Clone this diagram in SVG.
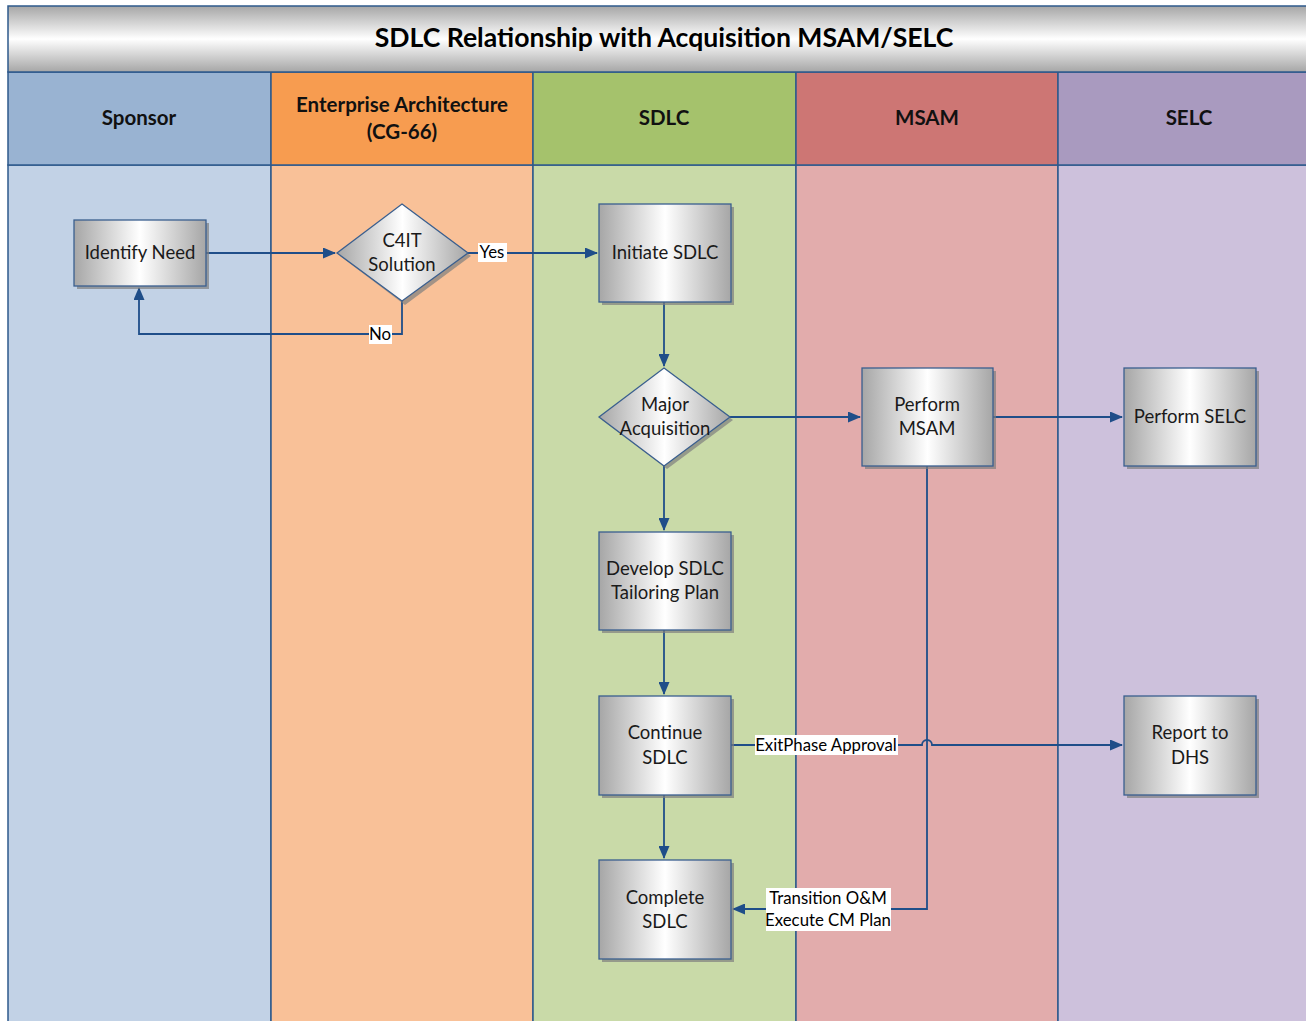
<svg xmlns="http://www.w3.org/2000/svg" width="1306" height="1021" viewBox="0 0 1306 1021">
<defs>
<linearGradient id="hg" x1="0" y1="0" x2="1" y2="0">
<stop offset="0" stop-color="#a6a6a6"/><stop offset="0.5" stop-color="#ffffff"/><stop offset="1" stop-color="#a6a6a6"/>
</linearGradient>
<linearGradient id="vg" x1="0" y1="0" x2="0" y2="1">
<stop offset="0" stop-color="#a6a6a6"/><stop offset="0.5" stop-color="#ffffff"/><stop offset="1" stop-color="#a6a6a6"/>
</linearGradient>
<marker id="ar" markerWidth="13" markerHeight="11" refX="12" refY="5.5" orient="auto" markerUnits="userSpaceOnUse">
<path d="M0,0 L13,5.5 L0,11 Z" fill="#1f4e89"/>
</marker>
<style>
.lane{stroke:#2e5a8c;stroke-width:1.5}
.hd{font-family:Lato,"Open Sans",sans-serif;font-weight:bold;font-size:20.5px;fill:#111;text-anchor:middle}
.tx{font-family:Lato,"Open Sans",sans-serif;font-size:18.5px;fill:#1a1a1a;text-anchor:middle}
.lb{font-family:Lato,"Open Sans",sans-serif;font-size:16.8px;fill:#000;text-anchor:middle}
.box{fill:url(#hg);stroke:#3a5f8f;stroke-width:1.3}
.sh{fill:#7f7f7f;opacity:0.7}
.cn{fill:none;stroke:#1f4e89;stroke-width:1.8}
</style>
</defs>
<rect width="1306" height="1021" fill="#ffffff"/>
<g id="lanes">
<rect x="8" y="165" width="263" height="860" fill="#c2d2e6" class="lane"/>
<rect x="271" y="165" width="262" height="860" fill="#f9c198" class="lane"/>
<rect x="533" y="165" width="263" height="860" fill="#c9daa8" class="lane"/>
<rect x="796" y="165" width="262" height="860" fill="#e2acac" class="lane"/>
<rect x="1058" y="165" width="260" height="860" fill="#cdc1dc" class="lane"/>
<rect x="8" y="72" width="263" height="93" fill="#99b3d2" class="lane"/>
<rect x="271" y="72" width="262" height="93" fill="#f79c50" class="lane"/>
<rect x="533" y="72" width="263" height="93" fill="#a5c26c" class="lane"/>
<rect x="796" y="72" width="262" height="93" fill="#cd7674" class="lane"/>
<rect x="1058" y="72" width="260" height="93" fill="#a99abf" class="lane"/>
<text class="hd" x="139" y="125">Sponsor</text>
<text class="hd" x="402" y="112">Enterprise Architecture</text>
<text class="hd" x="402" y="139">(CG-66)</text>
<text class="hd" x="664" y="125">SDLC</text>
<text class="hd" x="927" y="125">MSAM</text>
<text class="hd" x="1189" y="125">SELC</text>
</g>
<g id="title">
<rect x="8" y="6" width="1310" height="66" fill="url(#vg)" stroke="#2e5a8c" stroke-width="1.5"/>
<text x="664" y="47" font-family="Lato,'Open Sans',sans-serif" font-weight="bold" font-size="26.6" text-anchor="middle" fill="#000">SDLC Relationship with Acquisition MSAM/SELC</text>
</g>
<g id="connectors">
<path class="cn" d="M206,253 L335,253" marker-end="url(#ar)"/>
<path class="cn" d="M468,253 L597,253" marker-end="url(#ar)"/>
<path class="cn" d="M402,301 L402,334 L139,334 L139,288" marker-end="url(#ar)"/>
<path class="cn" d="M664,302 L664,366" marker-end="url(#ar)"/>
<path class="cn" d="M730,417 L860,417" marker-end="url(#ar)"/>
<path class="cn" d="M993,417 L1122,417" marker-end="url(#ar)"/>
<path class="cn" d="M664,466 L664,530" marker-end="url(#ar)"/>
<path class="cn" d="M664,630 L664,694" marker-end="url(#ar)"/>
<path class="cn" d="M664,795 L664,858" marker-end="url(#ar)"/>
<path class="cn" d="M731,745 L922,745 A5,5 0 0 1 932,745 L1122,745" marker-end="url(#ar)"/>
<path class="cn" d="M927,466 L927,909 L733,909" marker-end="url(#ar)"/>
<rect x="478" y="243" width="29" height="19" fill="#fff"/>
<text class="lb" x="492" y="258">Yes</text>
<rect x="369" y="325" width="23" height="19" fill="#fff"/>
<text class="lb" x="380" y="340">No</text>
<rect x="755" y="735" width="143" height="20" fill="#fff"/>
<text class="lb" x="826" y="751">ExitPhase Approval</text>
<rect x="766" y="888" width="125" height="43" fill="#fff"/>
<text class="lb" x="828" y="904">Transition O&amp;M</text>
<text class="lb" x="828" y="926">Execute CM Plan</text>
</g>
<g id="identify-need">
<rect class="sh" x="77" y="223" width="132" height="66"/>
<rect class="box" x="74" y="220" width="132" height="66"/>
<text class="tx" x="140" y="259">Identify Need</text>
</g>
<g id="c4it">
<polygon class="sh" points="405,207 471,256 405,305 340,256"/>
<polygon class="box" points="402,204 468,253 402,301 337,253"/>
<text class="tx" x="402" y="247">C4IT</text>
<text class="tx" x="402" y="271">Solution</text>
</g>
<g id="initiate-sdlc">
<rect class="sh" x="602" y="207" width="132" height="98"/>
<rect class="box" x="599" y="204" width="132" height="98"/>
<text class="tx" x="665" y="259">Initiate SDLC</text>
</g>
<g id="major-acq">
<polygon class="sh" points="667,371 733,420 667,469 602,420"/>
<polygon class="box" points="664,368 730,417 664,466 599,417"/>
<text class="tx" x="665" y="411">Major</text>
<text class="tx" x="665" y="435">Acquisition</text>
</g>
<g id="perform-msam">
<rect class="sh" x="865" y="371" width="131" height="98"/>
<rect class="box" x="862" y="368" width="131" height="98"/>
<text class="tx" x="927" y="411">Perform</text>
<text class="tx" x="927" y="435">MSAM</text>
</g>
<g id="perform-selc">
<rect class="sh" x="1127" y="371" width="132" height="98"/>
<rect class="box" x="1124" y="368" width="132" height="98"/>
<text class="tx" x="1190" y="423">Perform SELC</text>
</g>
<g id="develop-plan">
<rect class="sh" x="602" y="535" width="132" height="98"/>
<rect class="box" x="599" y="532" width="132" height="98"/>
<text class="tx" x="665" y="575">Develop SDLC</text>
<text class="tx" x="665" y="599">Tailoring Plan</text>
</g>
<g id="continue-sdlc">
<rect class="sh" x="602" y="699" width="132" height="99"/>
<rect class="box" x="599" y="696" width="132" height="99"/>
<text class="tx" x="665" y="739">Continue</text>
<text class="tx" x="665" y="764">SDLC</text>
</g>
<g id="complete-sdlc">
<rect class="sh" x="602" y="863" width="132" height="99"/>
<rect class="box" x="599" y="860" width="132" height="99"/>
<text class="tx" x="665" y="904">Complete</text>
<text class="tx" x="665" y="928">SDLC</text>
</g>
<g id="report-dhs">
<rect class="sh" x="1127" y="699" width="132" height="99"/>
<rect class="box" x="1124" y="696" width="132" height="99"/>
<text class="tx" x="1190" y="739">Report to</text>
<text class="tx" x="1190" y="764">DHS</text>
</g>
</svg>
